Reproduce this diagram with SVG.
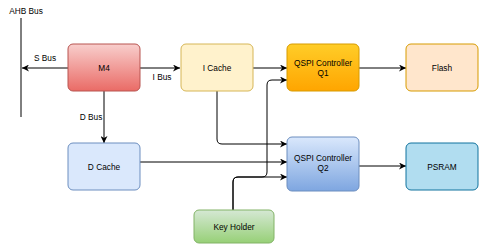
<svg xmlns="http://www.w3.org/2000/svg" width="487" height="251" viewBox="0 0 487 251">
<style>
.t{font-family:"Liberation Sans",Arial,sans-serif;font-size:8.3px;fill:#000;text-anchor:middle}
.e{fill:none;stroke:#000;stroke-width:1}
</style>
<defs>
<linearGradient id="gR" x1="0" y1="0" x2="0" y2="1"><stop offset="0" stop-color="#f8cecc"/><stop offset="1" stop-color="#ea6b66"/></linearGradient>
<linearGradient id="gO" x1="0" y1="0" x2="0" y2="1"><stop offset="0" stop-color="#ffcd28"/><stop offset="1" stop-color="#ffa500"/></linearGradient>
<linearGradient id="gB" x1="0" y1="0" x2="0" y2="1"><stop offset="0" stop-color="#dae8fc"/><stop offset="1" stop-color="#7ea6e0"/></linearGradient>
<linearGradient id="gG" x1="0" y1="0" x2="0" y2="1"><stop offset="0" stop-color="#d5e8d4"/><stop offset="1" stop-color="#97d077"/></linearGradient>
<marker id="a" viewBox="0 0 10 10" refX="10" refY="5" markerWidth="7" markerHeight="7" markerUnits="userSpaceOnUse" orient="auto"><path d="M0,0 L10,5 L0,10 L3,5 Z" fill="#000"/></marker>
</defs>
<g id="ahb">
<line x1="21" y1="18" x2="21" y2="117" stroke="#000" stroke-width="1"/>
<text class="t" x="26" y="14">AHB Bus</text>
</g>
<g id="connectors">
<path class="e" d="M68,68 L22,68" marker-end="url(#a)"/>
<text class="t" x="45" y="61">S Bus</text>
<path class="e" d="M140,68 L180,68" marker-end="url(#a)"/>
<text class="t" x="162" y="80">I Bus</text>
<path class="e" d="M104,91 L104,143" marker-end="url(#a)"/>
<text class="t" x="91" y="120">D Bus</text>
<path class="e" d="M253,68 L287,68" marker-end="url(#a)"/>
<path class="e" d="M359,68 L406,68" marker-end="url(#a)"/>
<path class="e" d="M217,91 L217,139 Q217,144 222,144 L287,144" marker-end="url(#a)"/>
<path class="e" d="M140,162 L287,162" marker-end="url(#a)"/>
<path class="e" d="M233,210 L233,182 Q233,177 238,177 L262,177 Q267,177 267,172 L267,85 Q267,80 272,80 L287,80" marker-end="url(#a)"/>
<path class="e" d="M233,210 L233,182 Q233,177 238,177 L287,177" marker-end="url(#a)"/>
<path class="e" d="M359,166 L406,166" marker-end="url(#a)"/>
</g>
<g id="m4"><rect x="68" y="44" width="72" height="47" rx="5" fill="url(#gR)" stroke="#b85450"/><text class="t" x="104" y="70.5">M4</text></g>
<g id="icache"><rect x="181" y="44" width="72" height="47" rx="5" fill="#fff2cc" stroke="#d6b656"/><text class="t" x="217" y="70.5">I Cache</text></g>
<g id="q1"><rect x="287" y="44" width="72" height="47" rx="5" fill="url(#gO)" stroke="#d79b00"/><text class="t" x="323" y="66">QSPI Controller</text><text class="t" x="323" y="75.5">Q1</text></g>
<g id="flash"><rect x="406" y="44" width="72" height="47" rx="5" fill="#ffe6cc" stroke="#d79b00"/><text class="t" x="442" y="70.5">Flash</text></g>
<g id="dcache"><rect x="68" y="143" width="72" height="47" rx="5" fill="#dae8fc" stroke="#6c8ebf"/><text class="t" x="104" y="169.5">D Cache</text></g>
<g id="q2"><rect x="287" y="137" width="72" height="54" rx="5" fill="url(#gB)" stroke="#6c8ebf"/><text class="t" x="323" y="161">QSPI Controller</text><text class="t" x="323" y="170.5">Q2</text></g>
<g id="psram"><rect x="406" y="143" width="72" height="47" rx="5" fill="#b1ddf0" stroke="#10739e"/><text class="t" x="442" y="169.5">PSRAM</text></g>
<g id="keyholder"><rect x="194" y="210" width="80" height="33" rx="5" fill="url(#gG)" stroke="#82b366"/><text class="t" x="234" y="229.5">Key Holder</text></g>
</svg>
